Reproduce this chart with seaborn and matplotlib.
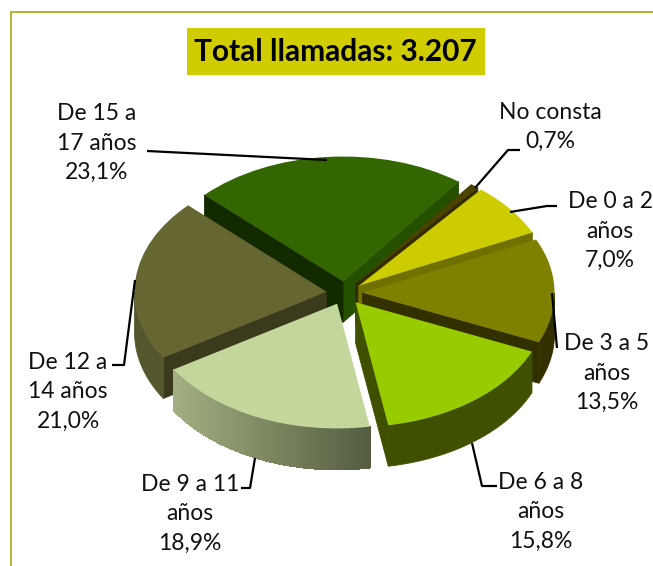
import numpy as np
import seaborn as sns
import matplotlib.pyplot as plt
from matplotlib.patches import Polygon, Rectangle
from matplotlib.colors import LinearSegmentedColormap

# datos
categorias = ["No consta", "De 0 a 2\naños", "De 3 a 5\naños", "De 6 a 8\naños",
              "De 9 a 11\naños", "De 12 a\n14 años", "De 15 a\n17 años"]
porcentajes = [0.7, 7.0, 13.5, 15.8, 18.9, 21.0, 23.1]
titulo = "Total llamadas: 3.207"

# colores
tapa = ["#4d4300", "#cccc00", "#808000", "#99cc00", "#c3d69b", "#666633", "#336600"]
borde = ["#332c00", "#707000", "#333000", "#3f5000", None, "#56562e", "#1c3c00"]
corte_bajo = ["#332c00", "#707000", "#333000", "#3f5000", "#555e42", "#56562e", "#255000"]
corte_alto = ["#332c00", "#707000", "#333000", "#3f5000", "#9aa97a", "#3c3a1c", "#132900"]
degradado = LinearSegmentedColormap.from_list("deg", ["#a3b081", "#555e42"])

# posiciones de etiquetas y lineas, en pixeles
pos_etiquetas = [(550, 127), (610, 231), (607, 373), (541, 512), (190, 514), (68, 392), (97, 143)]
guias = [[(520, 150), (508, 150), (475, 188)],
         [(557, 206), (547, 206), (510, 212)],
         [(557, 348), (552, 293)],
         [(497, 486), (482, 486), (472, 443)],
         [(255, 458), (250, 488), (241, 488)],
         [(135, 280), (124, 365), (112, 365)],
         [(147, 151), (327, 160)]]

W, H = 653, 566
APLASTE = 0.65
RADIO = 192
PROF = 41 / APLASTE
SEP = 18

sns.set_theme(style="white")
plt.rcParams['font.family'] = ['Lato', 'DejaVu Sans']

fig = plt.figure(figsize=(W / 100, H / 100), dpi=100)
ax = fig.add_axes([0, 0, 1, 1])
centro = (344.5, (H - 293) / APLASTE)
wedges, _ = ax.pie(porcentajes, startangle=53, counterclock=False, radius=RADIO,
                   center=centro, explode=[SEP] * len(porcentajes), colors=tapa,
                   wedgeprops={"linewidth": 0})
ax.set_aspect("auto")
ax.set_xlim(0, W)
ax.set_ylim(0, H / APLASTE)
ax.axis("off")


def banda(puntos, color, z, **kw):
    # extruye una linea de puntos hacia abajo
    puntos = list(puntos)
    bajos = [(x, y - PROF) for x, y in reversed(puntos)]
    ax.add_patch(Polygon(puntos + bajos, closed=True, fc=color, ec=color, lw=0.6, zorder=z, **kw))


# de atras hacia delante
medios = [np.radians((w.theta1 + w.theta2) / 2) for w in wedges]
orden = np.argsort([-np.sin(m) for m in medios])
for z, i in enumerate(orden):
    w = wedges[i]
    cx, cy = w.center
    z = z + 1
    w.set_zorder(z + 0.5)
    pt = lambda a: (cx + RADIO * np.cos(np.radians(a)), cy + RADIO * np.sin(np.radians(a)))
    # caras de corte
    if np.sin(np.radians(w.theta1 - 90)) < 0:
        banda([(cx, cy), pt(w.theta1)], corte_bajo[i], z)
    if np.sin(np.radians(w.theta2 + 90)) < 0:
        banda([(cx, cy), pt(w.theta2)], corte_alto[i], z)
    # borde exterior
    angulos = np.linspace(w.theta1, w.theta2, 200)
    visibles = [a for a in angulos if np.sin(np.radians(a)) < 0]
    if len(visibles) < 2:
        continue
    if borde[i] is not None:
        banda([pt(a) for a in visibles], borde[i], z)
    else:
        for a1, a2 in zip(visibles[:-1], visibles[1:]):
            p1, p2 = pt(a1), pt(a2)
            color = degradado((p1[0] - 173) / (367 - 173))
            banda([p1, p2], color, z, antialiased=False)

# capa de textos en pixeles
capa = fig.add_axes([0, 0, 1, 1], facecolor="none")
capa.set_xlim(0, W)
capa.set_ylim(H, 0)
capa.axis("off")

capa.plot([11, 11, W], [H, 12, 12], color="#a6a614", lw=1.2, solid_joinstyle="miter")
capa.add_patch(Rectangle((187, 28), 298, 47, fc="#d0cc00", ec="none"))
capa.text(335, 52, titulo, ha="center", va="center", fontsize=21.5, fontweight="bold",
          color="black")

for nombre, valor, (x, y), guia in zip(categorias, porcentajes, pos_etiquetas, guias):
    texto = nombre + "\n" + f"{valor:.1f}".replace(".", ",") + "%"
    capa.text(x, y, texto, ha="center", va="center", fontsize=16.5, color="#111111",
              linespacing=1.5)
    xs, ys = zip(*guia)
    capa.plot(xs, ys, color="black", lw=1.6, solid_capstyle="butt")

fig.savefig("out.png", dpi=100, facecolor="white")
